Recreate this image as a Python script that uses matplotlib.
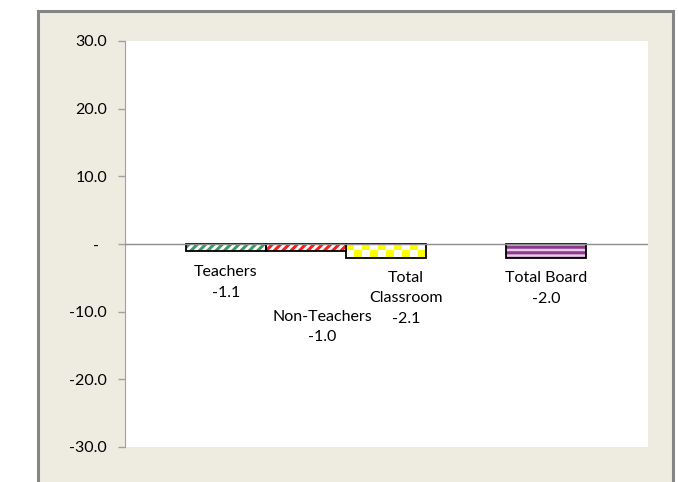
import numpy as np
import matplotlib
matplotlib.use("Agg")
import matplotlib.pyplot as plt
from matplotlib.patches import Rectangle

# chart data
categories = ["Teachers", "Non-Teachers", "Total\nClassroom", "", "Total Board"]
values = [-1.1, -1.0, -2.1, np.nan, -2.0]
y_ticks = [30, 20, 10, 0, -10, -20, -30]

# label placement (data coords)
label_x = [0.0, 1.2, 2.25, None, 4.0]
label_y = [-5.7, -12.3, -8.0, None, -6.6]

plt.rcParams['font.family'] = ['Lato', 'DejaVu Sans']
plt.rcParams['hatch.linewidth'] = 2.2

fig = plt.figure(figsize=(6.78, 4.82), dpi=100)

# beige frame behind the chart
frame = Rectangle((37.5 / 678, -0.05), 635 / 678, 1.05 - 11.5 / 482,
                  transform=fig.transFigure, facecolor='#EEECE1',
                  edgecolor='#858585', linewidth=2.2, zorder=-10)
fig.patches.append(frame)

ax = fig.add_axes([125 / 678, 1 - 447 / 482, 523 / 678, 406 / 482])
ax.set_facecolor('white')

x = np.arange(len(categories))
fills = ['white', 'white', 'white', 'white', '#E8C8E8']
hatch_colors = ['#3F9A66', '#FF1A1A', 'white', 'white', '#8A3A8A']
hatches = ['////', '////', None, None, '---']

for i, v in enumerate(values):
    if np.isnan(v):
        continue
    ax.bar(x[i], v, width=1.0, color=fills[i], edgecolor=hatch_colors[i],
           hatch=hatches[i], linewidth=0, zorder=2)
    bar = ax.bar(x[i], v, width=1.0, fill=False, edgecolor='black',
                 linewidth=1.3, zorder=2.5)[0]
    if i == 2:
        # yellow checkerboard pattern clipped to the bar
        cols, rows = 10, 2
        board = (np.indices((rows, cols)).sum(axis=0) % 2)
        rgb = np.where(board[..., None] == 0, [1.0, 1.0, 0.0], [1.0, 1.0, 1.0])
        x0, w = bar.get_x(), bar.get_width()
        y0, h = bar.get_y(), bar.get_height()
        im = ax.imshow(rgb, extent=(x0, x0 + w, y0 + h, y0), aspect='auto',
                       interpolation='nearest', zorder=2.2)
        im.set_clip_path(bar)

for i, name in enumerate(categories):
    if not name:
        continue
    ax.text(label_x[i], label_y[i], f"{name}\n{values[i]:.1f}", ha='center',
            va='center', fontsize=11.5, linespacing=1.58)

ax.axhline(0, color='#8C8C8C', linewidth=1.0, zorder=3)

ax.set_xlim(-1.2625, 5.275)
ax.set_ylim(-30, 30)
ax.set_yticks(y_ticks)
ax.set_yticklabels([f"{t:.1f}" if t != 0 else "-  " for t in y_ticks])
ax.tick_params(axis='y', length=5, width=1, color='#A0A0A0', pad=8,
               labelsize=11.5, direction='out')
ax.set_xticks([])
for s in ['top', 'right', 'bottom']:
    ax.spines[s].set_visible(False)
ax.spines['left'].set_color('#A0A0A0')

fig.savefig('out.png', dpi=100)
